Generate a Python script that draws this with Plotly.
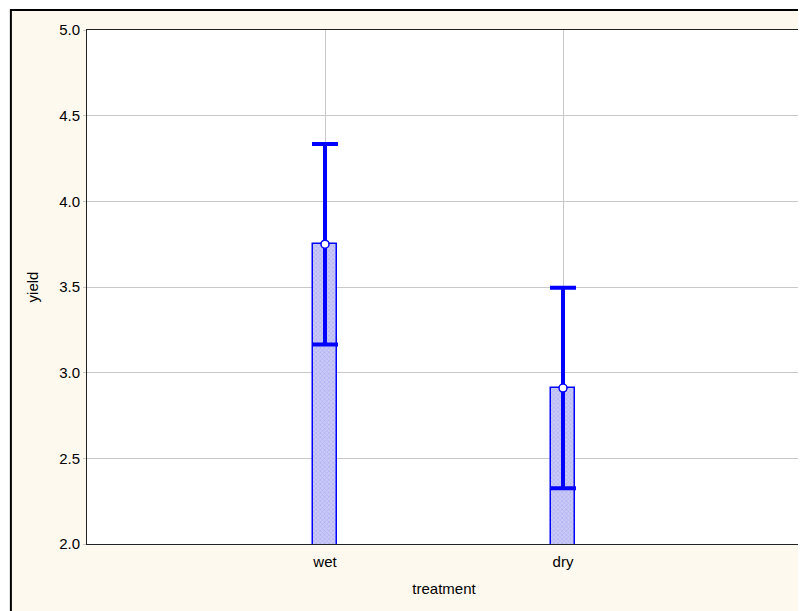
import plotly.graph_objects as go

categories = ["wet", "dry"]
means = [3.75, 2.91]
err_plus = [0.585, 0.585]
err_minus = [0.585, 0.585]
y_ticks = [2.0, 2.5, 3.0, 3.5, 4.0, 4.5, 5.0]

BLUE = "#0000FF"
BEIGE = "#FEF9EE"

fig = go.Figure()
fig.add_trace(go.Bar(
    x=categories, y=means, width=0.1,
    marker=dict(color="#B8B8F4", line=dict(color=BLUE, width=1.5),
                pattern=dict(shape="x", fgcolor="#9A9AF0", bgcolor="#CACAF7", size=3, solidity=0.45)),
    showlegend=False, hoverinfo="skip",
))
fig.add_trace(go.Scatter(
    x=categories, y=means, mode="markers",
    marker=dict(color="white", size=8, line=dict(color=BLUE, width=1.5)),
    error_y=dict(type="data", symmetric=False, array=err_plus, arrayminus=err_minus,
                 color=BLUE, thickness=4, width=13),
    showlegend=False,
))

# outer beige frame with black border (left/top visible)
fig.add_shape(type="rect", xref="paper", yref="paper",
              x0=-0.1066, x1=1.03, y0=-0.15, y1=1.0389,
              fillcolor=BEIGE, line=dict(color="black", width=2), layer="below")
# white plot area
fig.add_shape(type="rect", xref="paper", yref="paper",
              x0=0, x1=1, y0=0, y1=1,
              fillcolor="white", line=dict(width=0), layer="below")

fig.update_layout(
    width=798, height=603,
    paper_bgcolor="white", plot_bgcolor="white",
    margin=dict(l=79, r=5, t=22, b=67),
    font=dict(family="Liberation Sans, Arial, sans-serif", size=15, color="black"),
    bargap=0,
    xaxis=dict(type="category", range=[-1, 2], showgrid=True, gridcolor="#C8C8C8", gridwidth=1,
               showline=True, linecolor="#222222", linewidth=1, mirror=True,
               ticks="outside", ticklen=4, tickcolor="rgba(0,0,0,0)", tickfont=dict(size=15),
               title=dict(text="treatment", font=dict(size=15), standoff=14)),
    yaxis=dict(range=[2, 5], tickvals=y_ticks, ticktext=[f"{v:.1f}" for v in y_ticks],
               showgrid=True, gridcolor="#C8C8C8", gridwidth=1,
               showline=True, linecolor="#222222", linewidth=1, mirror=True,
               ticks="outside", ticklen=3, tickcolor="#C8C8C8",
               tickfont=dict(size=15),
               title=dict(text="yield", font=dict(size=15), standoff=16)),
)

fig.write_html("out.html")
